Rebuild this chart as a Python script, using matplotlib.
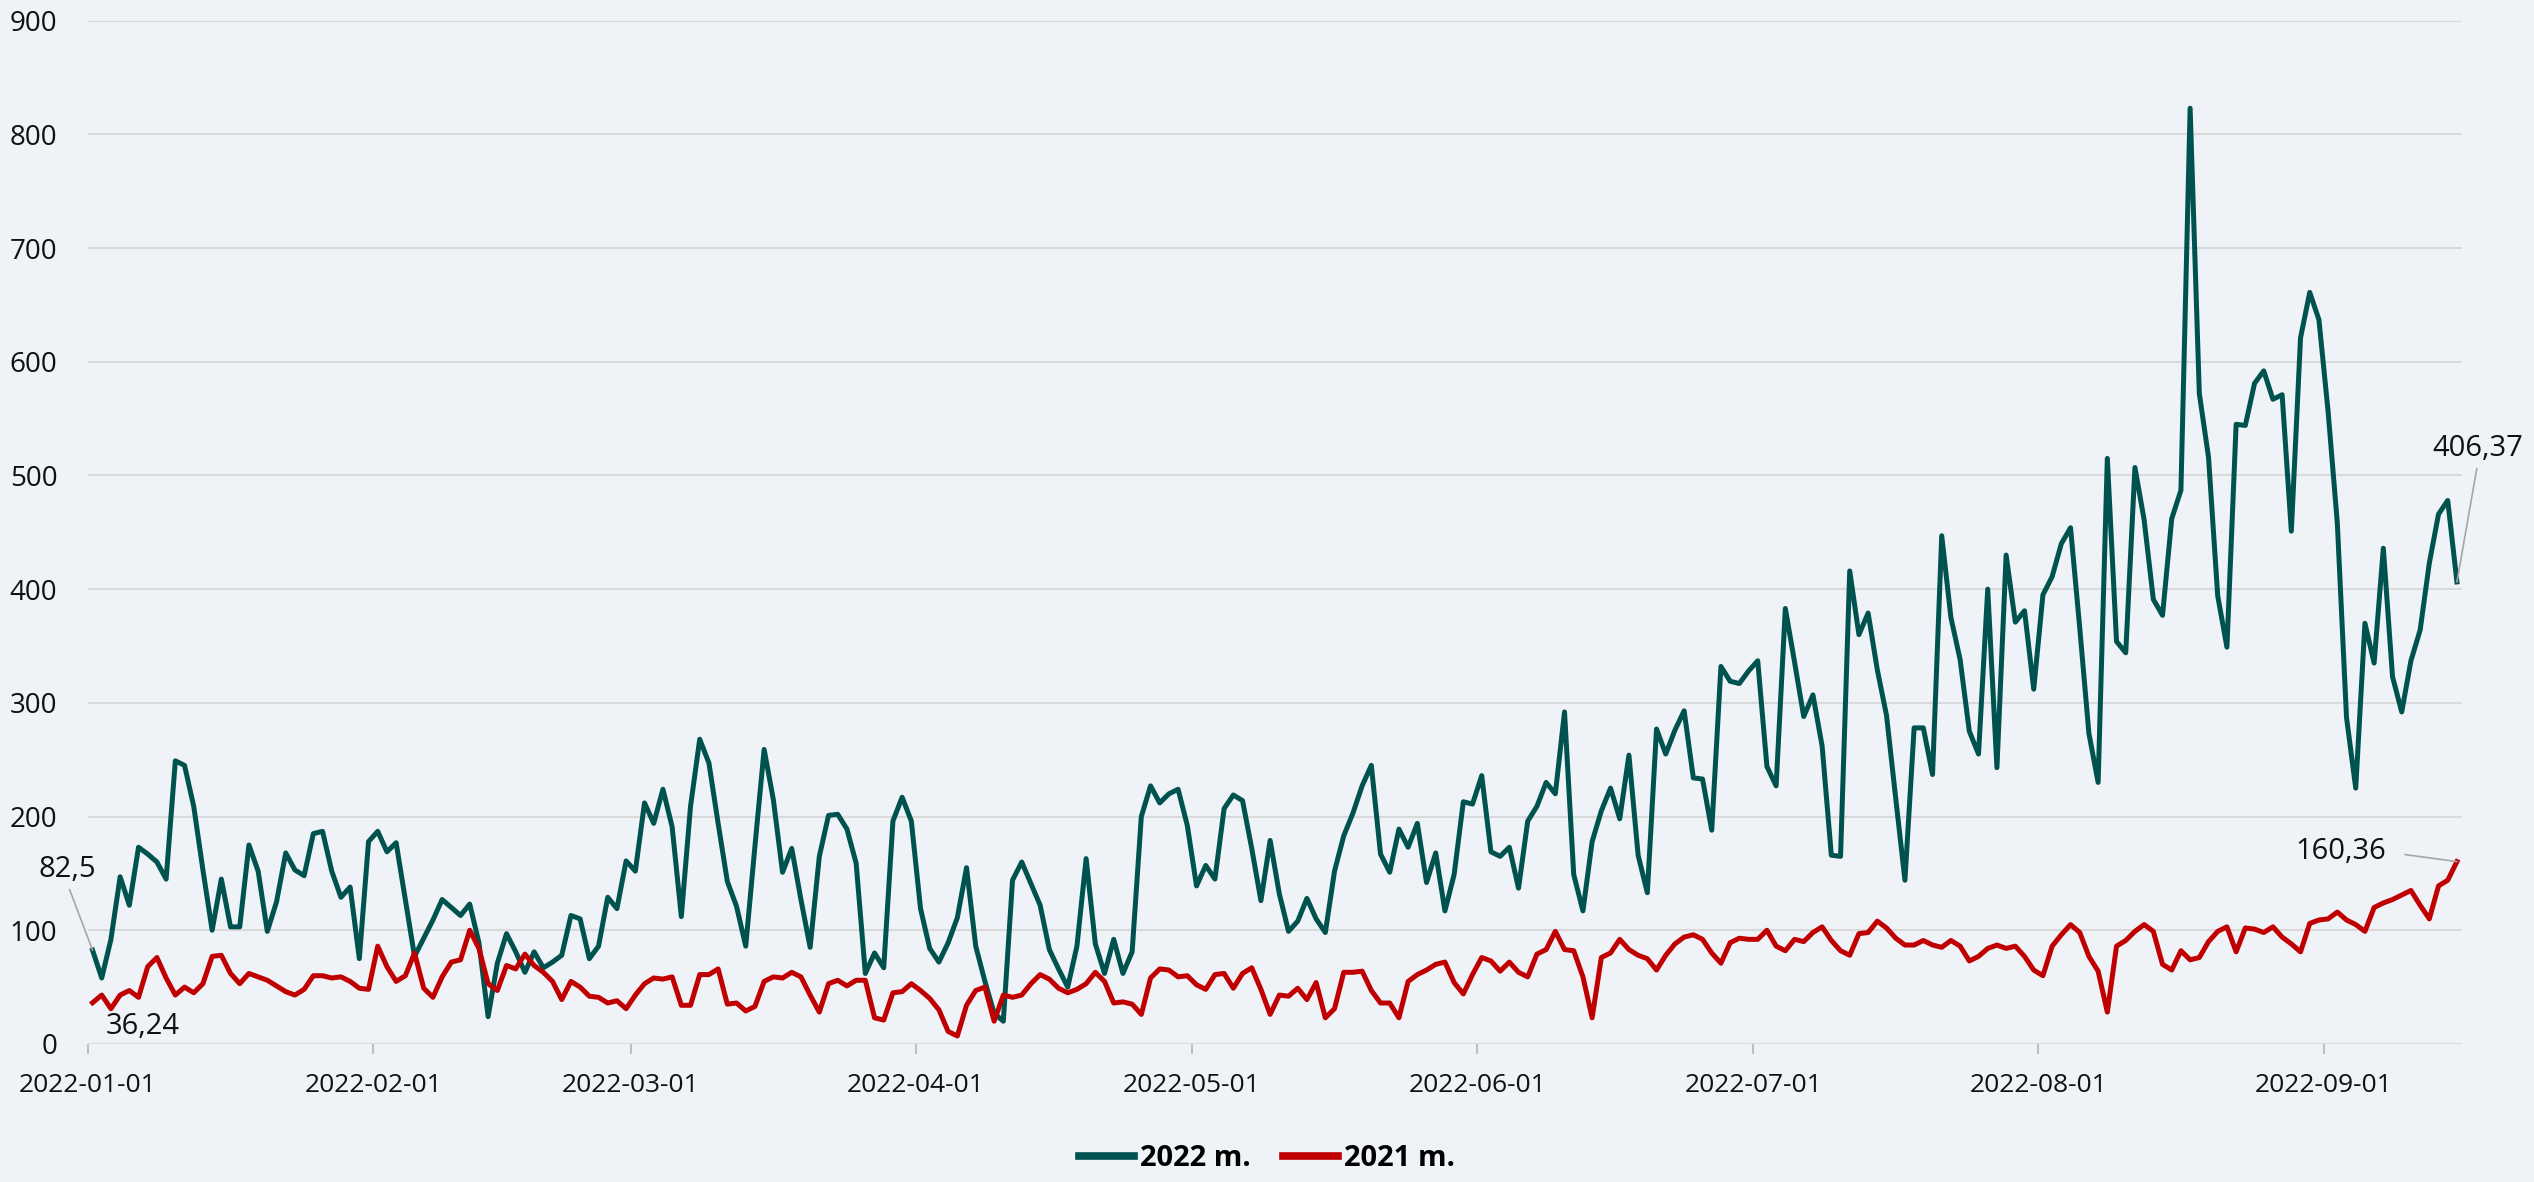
import matplotlib
matplotlib.use("Agg")
import matplotlib.pyplot as plt
import pandas as pd

plt.rcParams['font.family'] = ['Open Sans', 'DejaVu Sans']

# daily values, 2022-01-01 .. 2022-09-15
y2022 = [
    82.5, 58, 92, 147, 122, 173, 167, 160, 145, 249,
    245, 209, 153, 100, 145, 103, 103, 175, 152, 99,
    125, 168, 153, 148, 185, 187, 152, 129, 138, 75,
    178, 187, 169, 177, 127, 77, 93, 109, 127, 120,
    113, 123, 89, 24, 71, 97, 81, 63, 81, 67,
    72, 78, 113, 110, 75, 86, 129, 119, 161, 152,
    212, 194, 224, 191, 112, 209, 268, 247, 194, 143,
    121, 86, 174, 259, 215, 151, 172, 127, 85, 165,
    201, 202, 189, 159, 62, 80, 67, 196, 217, 196,
    119, 84, 72, 89, 111, 155, 86, 55, 27, 20,
    144, 160, 141, 122, 83, 66, 50, 86, 163, 88,
    62, 92, 62, 81, 200, 227, 212, 220, 224, 192,
    139, 157, 145, 207, 219, 214, 172, 126, 179, 132,
    99, 108, 128, 110, 98, 152, 183, 203, 227, 245,
    167, 151, 189, 173, 194, 142, 168, 117, 149, 213,
    211, 236, 169, 165, 173, 137, 196, 209, 230, 220,
    292, 149, 117, 178, 205, 225, 198, 254, 166, 133,
    277, 255, 276, 293, 234, 233, 188, 332, 319, 317,
    328, 337, 244, 227, 383, 336, 288, 307, 262, 166,
    165, 416, 360, 379, 329, 289, 216, 144, 278, 278,
    237, 447, 375, 338, 275, 255, 400, 243, 430, 371,
    381, 312, 395, 411, 440, 454, 366, 273, 230, 515,
    354, 344, 507, 461, 391, 377, 462, 487, 823, 572,
    516, 394, 349, 545, 544, 581, 592, 567, 571, 451,
    621, 661, 637, 556, 458, 287, 225, 370, 335, 436,
    323, 292, 337, 364, 423, 466, 478, 406.37,
]

y2021 = [
    36.24, 43, 31, 43, 47, 41, 68, 76, 58, 43,
    50, 45, 53, 77, 78, 62, 53, 62, 59, 56,
    51, 46, 43, 48, 60, 60, 58, 59, 55, 49,
    48, 86, 68, 55, 60, 80, 49, 41, 59, 72,
    74, 100, 84, 53, 47, 69, 66, 79, 69, 63,
    55, 39, 55, 50, 42, 41, 36, 38, 31, 43,
    53, 58, 57, 59, 34, 34, 61, 61, 66, 35,
    36, 29, 33, 55, 59, 58, 63, 59, 43, 28,
    53, 56, 51, 56, 56, 23, 21, 45, 46, 53,
    47, 40, 30, 11, 7, 34, 47, 50, 20, 43,
    41, 43, 53, 61, 57, 49, 45, 48, 53, 63,
    55, 36, 37, 35, 26, 58, 66, 65, 59, 60,
    52, 48, 61, 62, 49, 62, 67, 48, 26, 43,
    42, 49, 39, 54, 23, 31, 63, 63, 64, 47,
    36, 36, 23, 55, 61, 65, 70, 72, 54, 44,
    61, 76, 73, 64, 72, 63, 59, 79, 83, 99,
    83, 82, 59, 23, 76, 80, 92, 83, 78, 75,
    65, 78, 88, 94, 96, 92, 80, 71, 89, 93,
    92, 92, 100, 86, 82, 92, 90, 98, 103, 91,
    82, 78, 97, 98, 108, 102, 93, 87, 87, 91,
    87, 85, 91, 86, 73, 77, 84, 87, 84, 86,
    77, 65, 60, 86, 96, 105, 98, 77, 64, 28,
    86, 91, 99, 105, 99, 70, 65, 82, 74, 76,
    90, 99, 103, 81, 102, 101, 98, 103, 94, 88,
    81, 106, 109, 110, 116, 109, 105, 99, 120, 124,
    127, 131, 135, 122, 110, 139, 144, 160.36,
]

month_labels = ['2022-01-01', '2022-02-01', '2022-03-01', '2022-04-01', '2022-05-01',
                '2022-06-01', '2022-07-01', '2022-08-01', '2022-09-01']
series_names = ['2022 m.', '2021 m.']

dates = pd.date_range('2022-01-01', periods=len(y2022), freq='D')
half = pd.Timedelta(hours=12)

GREEN = '#00524F'
RED = '#C00000'
BG = '#EFF3F7'
GRID = '#D9D9D9'
TXT = '#111111'

fig = plt.figure(figsize=(25.34, 11.82), dpi=100, facecolor=BG)
ax = fig.add_axes([0.0347, 0.1168, 0.9367, 0.8657])
ax.set_facecolor(BG)

ax.plot(dates, y2022, color=GREEN, lw=3.6, label=series_names[0], solid_joinstyle='round')
ax.plot(dates, y2021, color=RED, lw=3.6, label=series_names[1], solid_joinstyle='round')

ax.set_ylim(0, 900)
ax.set_yticks(range(0, 901, 100))
ax.set_xlim(dates[0] - half, dates[-1] + half)
ticks = [pd.Timestamp(m) - half for m in month_labels]
ax.set_xticks(ticks)
ax.set_xticklabels(month_labels)

ax.grid(axis='y', color=GRID, lw=1.5)
ax.set_axisbelow(True)
for s in ax.spines.values():
    s.set_visible(False)
ax.tick_params(axis='y', length=0, pad=22, labelsize=20, labelcolor=TXT)
ax.tick_params(axis='x', length=7, width=1.5, color='#BFBFBF', pad=14,
               labelsize=19, labelcolor=TXT)

# data labels
lead = dict(arrowstyle='-', color='#A6A6A6', lw=1.2, shrinkA=2, shrinkB=0)
ax.annotate('82,5', xy=(dates[0], y2022[0]), xytext=(-18, 58), textcoords='offset points',
            ha='center', va='center', fontsize=21, color=TXT,
            arrowprops=dict(lead, relpos=(0.5, 0.0)))
ax.annotate('36,24', xy=(dates[0], y2021[0]), xytext=(36, -17), textcoords='offset points',
            ha='center', va='center', fontsize=21, color=TXT)
ax.annotate('406,37', xy=(dates[-1], y2022[-1]), xytext=(15, 96), textcoords='offset points',
            ha='center', va='center', fontsize=21, color=TXT, annotation_clip=False,
            arrowprops=dict(lead, relpos=(0.5, 0.0)))
ax.annotate('160,36', xy=(dates[-1], y2021[-1]), xytext=(-84, 7), textcoords='offset points',
            ha='center', va='center', fontsize=21, color=TXT,
            arrowprops=dict(lead, relpos=(1.0, 0.5), shrinkA=12))

leg = fig.legend(loc='center', bbox_to_anchor=(0.5, 0.02), ncol=2, frameon=False,
                 handlelength=1.9, handletextpad=0.2, columnspacing=1.1,
                 prop={'size': 21, 'weight': 'bold'})
for line in leg.get_lines():
    line.set_linewidth(5.5)

fig.savefig('out.png', dpi=100, facecolor=BG)
